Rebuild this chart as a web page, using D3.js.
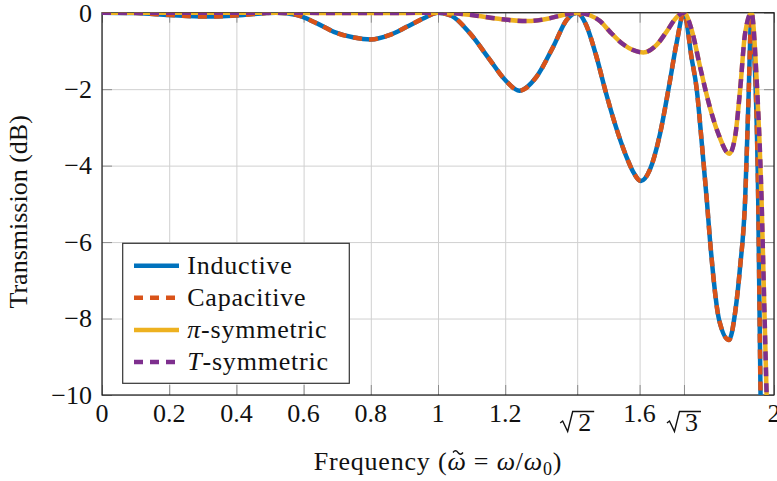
<!DOCTYPE html>
<html>
<head>
<meta charset="utf-8">
<script src="https://cdn.jsdelivr.net/npm/d3@7"></script>
<style>
body { margin: 0; background: #fff; }
svg { display: block; }
text { font-family: "Liberation Serif", "Times New Roman", serif; fill: #111; }
</style>
</head>
<body>
<svg id="chart" width="777" height="481"></svg>
<script>
// values (frequency, dB)
var freqInductive = [0, 0.1, 0.2, 0.31, 0.42, 0.49, 0.518, 0.58, 0.64, 0.69, 0.75, 0.8, 0.857, 0.907, 0.956, 1.0,
    1.04, 1.095, 1.155, 1.2, 1.242, 1.293, 1.343, 1.383, 1.414,
    1.44, 1.47, 1.5, 1.53, 1.56, 1.58, 1.604, 1.631, 1.66, 1.686, 1.71, 1.732,
    1.755, 1.77, 1.785, 1.8, 1.81, 1.837, 1.866, 1.885, 1.899, 1.914, 1.924, 1.933,
    1.938, 1.953, 1.96, 1.97];
var dbInductive = [0, -0.01, -0.06, -0.10, -0.06, -0.01, 0, -0.06, -0.28, -0.50, -0.65, -0.70, -0.58, -0.37, -0.15, 0,
    -0.08, -0.54, -1.24, -1.76, -2.04, -1.68, -0.89, -0.19, 0,
    -0.3, -1.1, -2.1, -3.0, -3.75, -4.15, -4.4, -4.1, -3.2, -2.0, -0.8, 0,
    -1.2, -2.0, -3.4, -4.9, -6.0, -8.05, -8.56, -7.8, -6.66, -4.91, -2.29, 0,
    -0.53, -4.9, -10, -13];
// capacitive response coincides with the inductive one
var freqCapacitive = freqInductive;
var dbCapacitive = dbInductive;

var freqSymmetric = [0, 0.5, 0.8, 1.0, 1.1, 1.18, 1.264, 1.33, 1.372, 1.414,
    1.45, 1.482, 1.512, 1.55, 1.611, 1.65, 1.68, 1.71, 1.732,
    1.755, 1.78, 1.81, 1.834, 1.867, 1.885, 1.899, 1.914, 1.933,
    1.948, 1.963, 1.97, 1.978, 1.99];
var dbPi = [0, 0, -0.01, 0, -0.06, -0.16, -0.22, -0.15, -0.06, 0,
    -0.06, -0.22, -0.5, -0.82, -1.04, -0.85, -0.5, -0.12, 0,
    -0.45, -1.42, -2.5, -3.16, -3.69, -3.2, -2.03, -0.54, 0,
    -1.7, -4.9, -7.3, -10, -14];
// T-symmetric coincides with pi-symmetric
var dbT = dbPi;

var seriesNames = ["Inductive", "Capacitive", "π-symmetric", "T-symmetric"];
var xTicks = [0, 0.2, 0.4, 0.6, 0.8, 1, 1.2, Math.SQRT2, 1.6, Math.sqrt(3), 2];
var xTickLabels = ["0", "0.2", "0.4", "0.6", "0.8", "1", "1.2", "√2", "1.6", "√3", "2"];
var yTicks = [0, -2, -4, -6, -8, -10];

var COLORS = ["#0072bd", "#d95319", "#edb120", "#7e2f8e"];
var DASHES = [null, "9 7", null, "9 7"];
var FONT = 26;

var svg = d3.select("#chart");
var margin = {left: 102, top: 12.7, right: 3, bottom: 86};
var W = 777 - margin.left - margin.right;
var H = 481 - margin.top - margin.bottom;

var x = d3.scaleLinear().domain([0, 2]).range([0, W]);
var y = d3.scaleLinear().domain([-10, 0]).range([H, 0]);

var g = svg.append("g").attr("transform", "translate(" + margin.left + "," + margin.top + ")");

// grid
var gridX = g.append("g").attr("transform", "translate(0," + H + ")")
    .call(d3.axisBottom(x).tickValues(xTicks).tickSize(-H).tickFormat(""));
var gridY = g.append("g")
    .call(d3.axisLeft(y).tickValues(yTicks).tickSize(-W).tickFormat(""));
[gridX, gridY].forEach(function(a) {
    a.select(".domain").remove();
    a.selectAll("line").attr("stroke", "#d0d0d0").attr("stroke-width", 1);
});

// inward tick marks on all four sides
var tickAxes = [
    g.append("g").attr("transform", "translate(0," + H + ")").call(d3.axisBottom(x).tickValues(xTicks).tickSize(-10).tickFormat("")),
    g.append("g").call(d3.axisTop(x).tickValues(xTicks).tickSize(-10).tickFormat("")),
    g.append("g").call(d3.axisLeft(y).tickValues(yTicks).tickSize(-10).tickFormat("")),
    g.append("g").attr("transform", "translate(" + W + ",0)").call(d3.axisRight(y).tickValues(yTicks).tickSize(-10).tickFormat(""))
];
tickAxes.forEach(function(a) {
    a.select(".domain").remove();
    a.selectAll("line").attr("stroke", "#8c8c8c").attr("stroke-width", 1);
});

// frame
g.append("rect").attr("x", 0).attr("y", 0).attr("width", W).attr("height", H)
    .attr("fill", "none").attr("stroke", "#1a1a1a").attr("stroke-width", 1.2);

// curves
svg.append("defs").append("clipPath").attr("id", "plotclip")
    .append("rect").attr("width", W).attr("height", H);

var series = [
    {freq: freqInductive, db: dbInductive},
    {freq: freqCapacitive, db: dbCapacitive},
    {freq: freqSymmetric, db: dbPi},
    {freq: freqSymmetric, db: dbT}
];

var line = d3.line()
    .x(function(d) { return x(d[0]); })
    .y(function(d) { return y(d[1]); })
    .curve(d3.curveMonotoneX);

var plot = g.append("g").attr("clip-path", "url(#plotclip)");
series.forEach(function(s, i) {
    plot.append("path")
        .datum(d3.zip(s.freq, s.db))
        .attr("d", line)
        .attr("fill", "none")
        .attr("stroke", COLORS[i])
        .attr("stroke-width", 4.5)
        .attr("stroke-dasharray", DASHES[i]);
});

// y tick labels
g.selectAll(".ylab").data(yTicks).enter().append("text")
    .attr("class", "ylab")
    .attr("x", -10)
    .attr("y", function(d) { return y(d); })
    .attr("dy", "0.34em")
    .attr("text-anchor", "end")
    .style("font-size", FONT + "px")
    .text(function(d) { return d < 0 ? "\u2212" + (-d) : d; });

// x tick labels (square roots drawn with a radical stroke)
xTickLabels.forEach(function(lab, i) {
    var px = x(xTicks[i]);
    if (lab.charAt(0) === "√") {
        var base = 431 - margin.top;
        var top = base - 19.5;
        var L = px - 17;
        g.append("path")
            .attr("d", "M" + (L) + "," + (base - 8) + " L" + (L + 2.5) + "," + (base - 10) +
                " L" + (L + 7.5) + "," + (base + 0.5) + " L" + (L + 12.5) + "," + top + " L" + (px + 17) + "," + top)
            .attr("fill", "none").attr("stroke", "#111").attr("stroke-width", 1.4)
            .attr("stroke-linejoin", "miter");
        g.append("text")
            .attr("x", px + 7.5).attr("y", base)
            .attr("text-anchor", "middle")
            .style("font-size", FONT + "px")
            .text(lab.slice(1));
    } else {
        g.append("text")
            .attr("x", px).attr("y", 422.5 - margin.top)
            .attr("text-anchor", "middle")
            .style("font-size", FONT + "px")
            .text(lab);
    }
});

// axis titles
var xt = svg.append("text")
    .attr("x", margin.left + W / 2).attr("y", 470)
    .attr("text-anchor", "middle")
    .style("font-size", FONT + "px")
    .style("letter-spacing", "0.8px");
xt.append("tspan").text("Frequency (");
xt.append("tspan").style("font-style", "italic").text("ω");
xt.append("tspan").text(" = ");
xt.append("tspan").style("font-style", "italic").text("ω");
xt.append("tspan").text("/");
xt.append("tspan").style("font-style", "italic").text("ω");
xt.append("tspan").attr("dy", 5).style("font-size", "18px").text("0");
xt.append("tspan").attr("dy", -5).text(")");

// tilde over the first omega
var om = xt.node().getExtentOfChar(11);
var tx = om.x + om.width / 2 + 1, ty = 470 - 18.5;
svg.append("path")
    .attr("d", "M" + (tx - 5) + "," + (ty + 1) + " q2.5,-3.5 5,0 t5,0")
    .attr("fill", "none").attr("stroke", "#111").attr("stroke-width", 1.3);

svg.append("text")
    .attr("transform", "translate(27," + (margin.top + H / 2 + 8) + ") rotate(-90)")
    .attr("text-anchor", "middle")
    .style("font-size", FONT + "px")
    .text("Transmission (dB)");

// legend
var legend = svg.append("g").attr("transform", "translate(122.7,243.3)");
legend.append("rect").attr("width", 226.6).attr("height", 140)
    .attr("fill", "#fff").attr("stroke", "#333").attr("stroke-width", 1.2);

var rows = legend.selectAll(".row").data(seriesNames).enter().append("g")
    .attr("class", "row")
    .attr("transform", function(d, i) { return "translate(0," + (22.4 + i * 32.1) + ")"; });
rows.append("line")
    .attr("x1", 11.3).attr("x2", 56.3)
    .attr("stroke", function(d, i) { return COLORS[i]; })
    .attr("stroke-width", 4.5)
    .attr("stroke-dasharray", function(d, i) { return DASHES[i]; });
rows.each(function(name) {
    var t = d3.select(this).append("text")
        .attr("x", 64.5).attr("y", 7.8)
        .style("font-size", FONT + "px")
        .style("letter-spacing", "0.8px");
    var parts = name.split("-");
    if (parts[0] === "π" || parts[0] === "T") {
        t.append("tspan").style("font-style", "italic").text(parts[0]);
        t.append("tspan").text("-" + parts[1]);
    } else {
        t.text(name);
    }
});
</script>
</body>
</html>
